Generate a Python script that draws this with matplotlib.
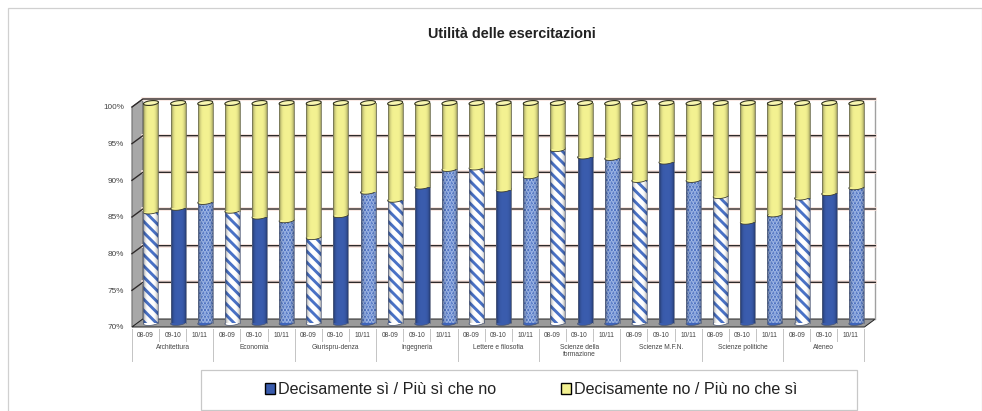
import numpy as np
import matplotlib
matplotlib.use("Agg")
import matplotlib.pyplot as plt
from matplotlib.patches import Polygon, Rectangle, Patch

plt.rcParams['font.family'] = ['Liberation Sans', 'DejaVu Sans']
plt.rcParams['hatch.linewidth'] = 2.1

title = "Utilità delle esercitazioni"
faculties = ["Architettura", "Economia", "Giurispru-denza", "Ingegneria", "Lettere e filosofia",
             "Scienze della\nformazione", "Scienze M.F.N.", "Scienze politiche", "Ateneo"]
years = ["08-09", "09-10", "10/11"]
yes_values = [85.2, 85.7, 86.5,
              85.3, 84.5, 84.0,
              81.7, 84.7, 87.9,
              86.8, 88.6, 91.0,
              91.2, 88.2, 90.0,
              93.7, 92.7, 92.5,
              89.5, 92.0, 89.5,
              87.3, 83.8, 84.8,
              87.1, 87.7, 88.5]
series_names = ["Decisamente sì / Più sì che no", "Decisamente no / Più no che sì"]
y_ticks = [70, 75, 80, 85, 90, 95, 100]

W, H = 982, 411
fig = plt.figure(figsize=(W / 100, H / 100), dpi=100, facecolor='white')

fig.add_artist(Rectangle((7.5 / W, -0.02), 1 - 8 / W, 1 - 7.5 / H + 0.02, transform=fig.transFigure,
                         fill=False, ec='#D0D0D0', lw=0.9))

L, R, B, T = 137.4, 869.9, 323.0, 103.0
ax = fig.add_axes([L / W, (H - B) / H, (R - L) / W, (B - T) / H])
ax.axis('off')
n = len(yes_values)
SLOT = (R - L) / n
PCT = (B - T) / 30.0
DX = 5.45 / SLOT
DY = 4.0 / PCT
BW = 15.0 / SLOT
EH = 4.6 / PCT
TILT = 1.6 / PCT  # rise across the bar width, ellipse leans up to the right


def ypx(p):
    return 70 + (B - p) / PCT


def disc(i, v, **kw):
    t = np.linspace(0, 2 * np.pi, 60)
    u = np.cos(t) / 2
    return Polygon(np.column_stack([i + BW * u, v + EH / 2 * np.sin(t) + TILT * u]), closed=True,
                   clip_on=False, **kw)


x0, x1 = -0.5, n - 0.5
BLUE = '#3A5CAD'
YEL = '#F3F191'

ax.add_patch(Polygon([(x0 + DX, 70 + DY), (x1 + DX, 70 + DY), (x1 + DX, 100 + DY), (x0 + DX, 100 + DY)],
                     fc='white', ec='none', zorder=1, clip_on=False))
ax.add_patch(Polygon([(x0 - DX, 70 - DY), (x0 + DX, 70 + DY), (x0 + DX, 100 + DY), (x0 - DX, 100 - DY)],
                     fc='#A8A8A8', ec='#555555', lw=0.6, zorder=1, clip_on=False))
ax.add_patch(Polygon([(x0 - DX, 70 - DY), (x1 - DX, 70 - DY), (x1 + DX, 70 + DY), (x0 + DX, 70 + DY)],
                     fc='#9A9A9A', ec='#222222', lw=0.7, zorder=1, clip_on=False))
ax.plot([x1 + DX, x1 + DX], [70 + DY, 100 + DY], color='#A0A0A0', lw=1.0, zorder=1.2, clip_on=False)

for v in y_ticks:
    if v > 70:
        ax.plot([x0 + DX, x1 + DX], [v + DY, v + DY], color='#F8E4DE', lw=2.6, zorder=1.3, clip_on=False)
        ax.plot([x0 - DX, x0 + DX, x1 + DX], [v - DY, v + DY, v + DY], color='#2E2A2A', lw=1.0,
                zorder=1.4, clip_on=False)
    ax.text(x0 - DX - 8 / SLOT, v - DY - 0.1, f"{v}%", ha='right', va='center', fontsize=5.9,
            color='#444444', clip_on=False)

t = np.linspace(-1, 1, 32)
shade = np.zeros((1, 32, 4))
shade[0, :, 3] = np.clip(np.abs(t - 0.05) ** 4 * 0.4, 0, 0.4)

for i, v in enumerate(yes_values):
    left, right = i - BW / 2, i + BW / 2
    kind = i % 3
    if kind == 0:
        fc, hc, hatch = 'white', '#4A72C6', '\\' * 3
    elif kind == 1:
        fc, hc, hatch = BLUE, BLUE, None
    else:
        fc, hc, hatch = '#3E64BA', '#A9C0EA', '.' * 5
    z = 2 + i * 0.01
    ax.add_patch(disc(i, 70, fc=fc, ec='#4A5570', lw=0.5, zorder=z))
    ax.bar(i, v - 70, bottom=70, width=BW, color=fc, edgecolor=hc, linewidth=0, hatch=hatch,
           zorder=z + 0.001, clip_on=False)
    ax.imshow(shade, extent=(left, right, 70, v), aspect='auto', zorder=z + 0.002, clip_on=False)
    for xe in (left, right):
        ax.plot([xe, xe], [70, v], color='#5A6580', lw=0.5, zorder=z + 0.003, clip_on=False)
    ax.add_patch(disc(i, v, fc=YEL, ec='#3A3A30', lw=0.6, zorder=z + 0.004))
    ax.bar(i, 100 - v, bottom=v, width=BW, color=YEL, linewidth=0, zorder=z + 0.005, clip_on=False)
    ax.imshow(shade, extent=(left, right, v, 100), aspect='auto', zorder=z + 0.006, clip_on=False)
    for xe in (left, right):
        ax.plot([xe, xe], [v, 100], color='#77775A', lw=0.6, zorder=z + 0.007, clip_on=False)
    ax.add_patch(disc(i, 100, fc='#F8F6B0', ec='#33331F', lw=0.8, zorder=z + 0.008))

for i in range(n + 1):
    xs = i - 0.5 - DX
    long_tick = i % 3 == 0
    ax.plot([xs, xs], [ypx(329), ypx(361 if long_tick else 341)], color='#C4C4C4', lw=0.7,
            zorder=1, clip_on=False)
for i in range(n):
    ax.text(i - DX, ypx(335.5), years[i % 3], ha='center', va='center', fontsize=4.8,
            color='#444444', clip_on=False)
for j, name in enumerate(faculties):
    ax.text(3 * j + 1 - DX, ypx(347.5 if '\n' not in name else 351), name, ha='center', va='center',
            fontsize=4.8, color='#444444', linespacing=1.1, clip_on=False)

ax.set_xlim(x0, x1)
ax.set_ylim(70, 100)

fig.text(512 / W, 1 - 33.5 / H, title, ha='center', va='center', fontsize=10.4, fontweight='bold', color='#222222')

fig.add_artist(Rectangle((200.5 / W, (H - 410) / H), 656.5 / W, 40 / H, transform=fig.transFigure,
                         fc='white', ec='#C8C8C8', lw=0.9))
handles = [Patch(fc=BLUE, ec='black', lw=1.0), Patch(fc=YEL, ec='black', lw=1.0)]
fig.legend(handles, series_names, ncols=2, loc='center', bbox_to_anchor=(531 / W, (H - 389.5) / H),
           frameon=False, fontsize=11.6, handlelength=0.62, handleheight=0.62, handletextpad=0.2,
           columnspacing=4.0, labelcolor='#222222', borderpad=0)

fig.savefig('out.png', dpi=100, facecolor='white')
